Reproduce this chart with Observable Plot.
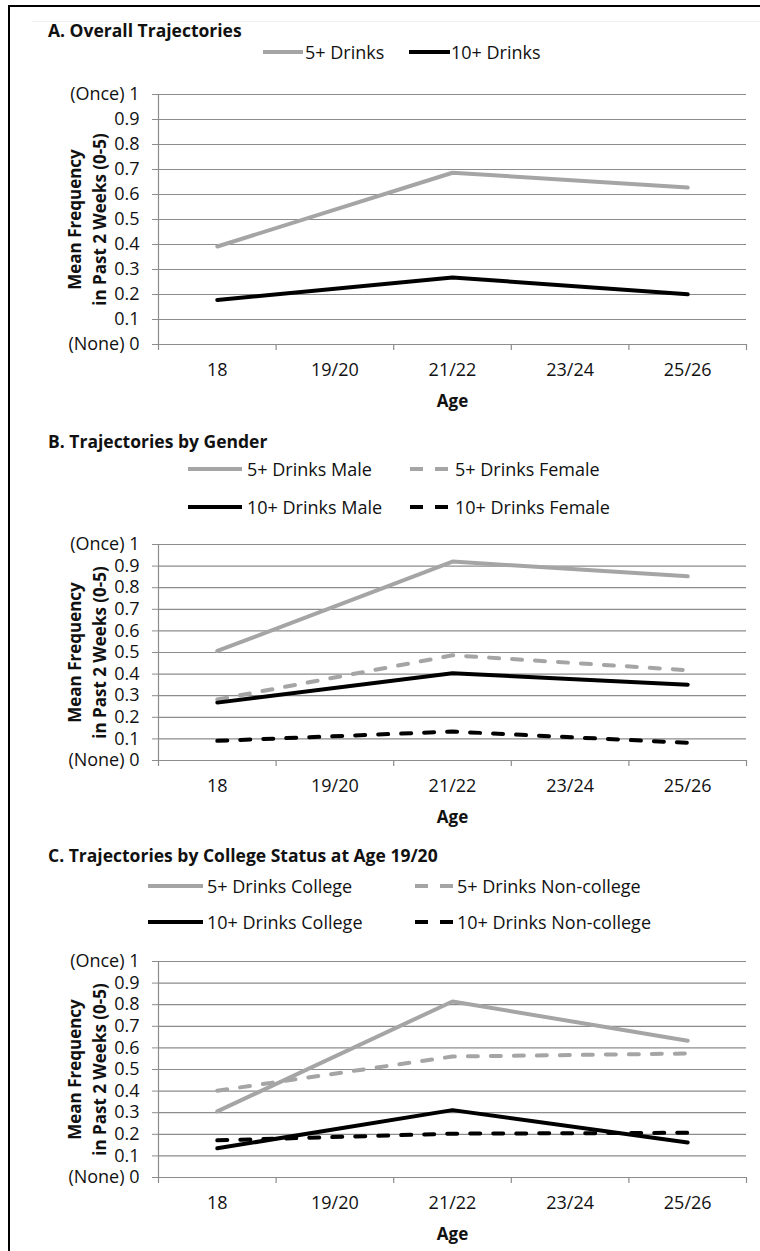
<!DOCTYPE html>
<html><head><meta charset="utf-8">
<script src="https://cdn.jsdelivr.net/npm/d3@7"></script>
<script src="https://cdn.jsdelivr.net/npm/@observablehq/plot@0.6"></script>
<style>
body{margin:0;background:#fff;}
#root{position:relative;width:760px;height:1251px;overflow:hidden;font-family:"Open Sans",sans-serif;color:#111;}
.frame{position:absolute;left:8px;top:5px;width:800px;height:1300px;border-left:2px solid #000;border-top:2px solid #000;}
.faint{position:absolute;left:32px;width:760px;height:1px;background:#f0f0f0;}
.title{position:absolute;left:48px;font-weight:bold;font-size:17.5px;line-height:24px;white-space:nowrap;}
.legtext{position:absolute;font-size:18px;line-height:24px;white-space:nowrap;}
.swatch{position:absolute;}
.plot{position:absolute;left:0;}
</style></head><body><div id="root"><div class="frame"></div><div class="faint" style="top:21px"></div></div>
<script>
// ---- data ----
const ages = ["18", "19/20", "21/22", "23/24", "25/26"];
const observedAges = ["18", "21/22", "25/26"];
const yTicks = [0, 0.1, 0.2, 0.3, 0.4, 0.5, 0.6, 0.7, 0.8, 0.9, 1];
const yTickLabels = ["(None) 0", "0.1", "0.2", "0.3", "0.4", "0.5", "0.6", "0.7", "0.8", "0.9", "(Once) 1"];
const yTitle = "Mean Frequency\nin Past 2 Weeks (0-5)";
const xTitle = "Age";

const titleA = "A. Overall Trajectories";
const namesA = ["5+ Drinks", "10+ Drinks"];
const a5 = [0.392, 0.687, 0.628];
const a10 = [0.178, 0.268, 0.201];

const titleB = "B. Trajectories by Gender";
const namesB = ["5+ Drinks Male", "5+ Drinks Female", "10+ Drinks Male", "10+ Drinks Female"];
const b5Male = [0.507, 0.921, 0.853];
const b5Female = [0.282, 0.487, 0.418];
const b10Male = [0.268, 0.404, 0.351];
const b10Female = [0.091, 0.134, 0.082];

const titleC = "C. Trajectories by College Status at Age 19/20";
const namesC = ["5+ Drinks College", "5+ Drinks Non-college", "10+ Drinks College", "10+ Drinks Non-college"];
const c5College = [0.306, 0.815, 0.633];
const c5NonCollege = [0.402, 0.560, 0.574];
const c10College = [0.135, 0.312, 0.162];
const c10NonCollege = [0.172, 0.203, 0.207];

// ---- styles ----
const GRAY = "#a5a5a5", BLACK = "#000000", GRID = "#8c8c8c";
const DASH = "10,13";
const root = document.getElementById("root");
const labelMap = new Map(yTicks.map((t, i) => [Math.round(t * 10), yTickLabels[i]]));

function addTitle(text, yc) {
  const d = document.createElement("div");
  d.className = "title"; d.textContent = text;
  d.style.top = (yc - 12) + "px";
  root.appendChild(d);
}
function addLegend(x0, x1, xt, yc, color, dashed, text) {
  const ns = "http://www.w3.org/2000/svg";
  const s = document.createElementNS(ns, "svg");
  s.setAttribute("class", "swatch");
  s.setAttribute("width", x1 - x0); s.setAttribute("height", 8);
  s.style.left = x0 + "px"; s.style.top = (yc - 4) + "px";
  const l = document.createElementNS(ns, "line");
  l.setAttribute("x1", 0); l.setAttribute("x2", x1 - x0);
  l.setAttribute("y1", 4); l.setAttribute("y2", 4);
  l.setAttribute("stroke", color); l.setAttribute("stroke-width", 4);
  if (dashed) l.setAttribute("stroke-dasharray", "13,12");
  s.appendChild(l); root.appendChild(s);
  const t = document.createElement("div");
  t.className = "legtext"; t.textContent = text;
  t.style.left = xt + "px"; t.style.top = (yc - 12) + "px";
  root.appendChild(t);
}
function seriesData(vals) {
  return observedAges.map((a, i) => ({x: ages.indexOf(a) + 0.5, y: vals[i]}));
}
function addPanel(top, plotH, series) {
  const marks = [
    Plot.ruleY(yTicks, {stroke: GRID, strokeWidth: 1.2}),
    Plot.axisY({ticks: yTicks, tickFormat: d => labelMap.get(Math.round(d * 10)), tickSize: 6, tickPadding: 13,
      stroke: GRID, fill: "#111", fontSize: 18, label: null}),
    Plot.ruleX([0], {y1: 0, y2: 1, stroke: GRID, strokeWidth: 1.2}),
    Plot.axisX({ticks: ages.map((_, i) => i + 0.5), tickFormat: d => ages[Math.floor(d)], tickSize: 0, tickPadding: 19,
      fill: "#111", fontSize: 18, label: null}),
    Plot.axisX({ticks: d3.range(ages.length + 1), tickFormat: () => "", tickSize: 6, stroke: GRID, strokeWidth: 1.2, label: null}),
    ...series.map(s => Plot.line(seriesData(s.vals), {x: "x", y: "y", stroke: s.color, strokeWidth: 4,
      strokeDasharray: s.dashed ? DASH : null, strokeLinecap: "round", strokeLinejoin: "round"})),
    Plot.text([yTitle], {text: d => d, frameAnchor: "left", dx: -73, rotate: -90, fontWeight: "bold", fontSize: 17,
      lineHeight: 1.47, textAnchor: "middle", lineAnchor: "middle", fill: "#111"}),
    Plot.text([xTitle], {text: d => d, frameAnchor: "bottom", dy: 57, fontWeight: "bold", fontSize: 17,
      lineAnchor: "middle", fill: "#111"})
  ];
  const p = Plot.plot({
    width: 760, height: 14 + plotH + 75,
    marginLeft: 158, marginRight: 14, marginTop: 14, marginBottom: 75,
    x: {type: "linear", domain: [0, ages.length], axis: null},
    y: {domain: [0, 1], axis: null},
    style: {fontFamily: "'Open Sans', sans-serif", background: "transparent", overflow: "visible"},
    marks
  });
  p.classList.add("plot");
  p.style.position = "absolute"; p.style.top = top + "px"; p.style.left = "0px";
  root.appendChild(p);
}

// Panel A
addTitle(titleA, 30);
addLegend(263, 303, 305, 52, GRAY, false, namesA[0]);
addLegend(409, 450, 451, 52, BLACK, false, namesA[1]);
addPanel(80, 250, [{vals: a5, color: GRAY}, {vals: a10, color: BLACK}]);

// Panel B
addTitle(titleB, 441);
addLegend(188, 242, 247, 469, GRAY, false, namesB[0]);
addLegend(410, 448, 455, 469, GRAY, true, namesB[1]);
addLegend(188, 242, 247, 507, BLACK, false, namesB[2]);
addLegend(410, 448, 455, 507, BLACK, true, namesB[3]);
addPanel(530, 216, [{vals: b5Male, color: GRAY}, {vals: b5Female, color: GRAY, dashed: true},
  {vals: b10Male, color: BLACK}, {vals: b10Female, color: BLACK, dashed: true}]);

// Panel C
addTitle(titleC, 855);
addLegend(148, 203, 207, 886, GRAY, false, namesC[0]);
addLegend(415, 453, 457, 886, GRAY, true, namesC[1]);
addLegend(148, 203, 207, 922, BLACK, false, namesC[2]);
addLegend(415, 453, 457, 922, BLACK, true, namesC[3]);
addPanel(947, 216, [{vals: c5College, color: GRAY}, {vals: c5NonCollege, color: GRAY, dashed: true},
  {vals: c10College, color: BLACK}, {vals: c10NonCollege, color: BLACK, dashed: true}]);
</script></body></html>
